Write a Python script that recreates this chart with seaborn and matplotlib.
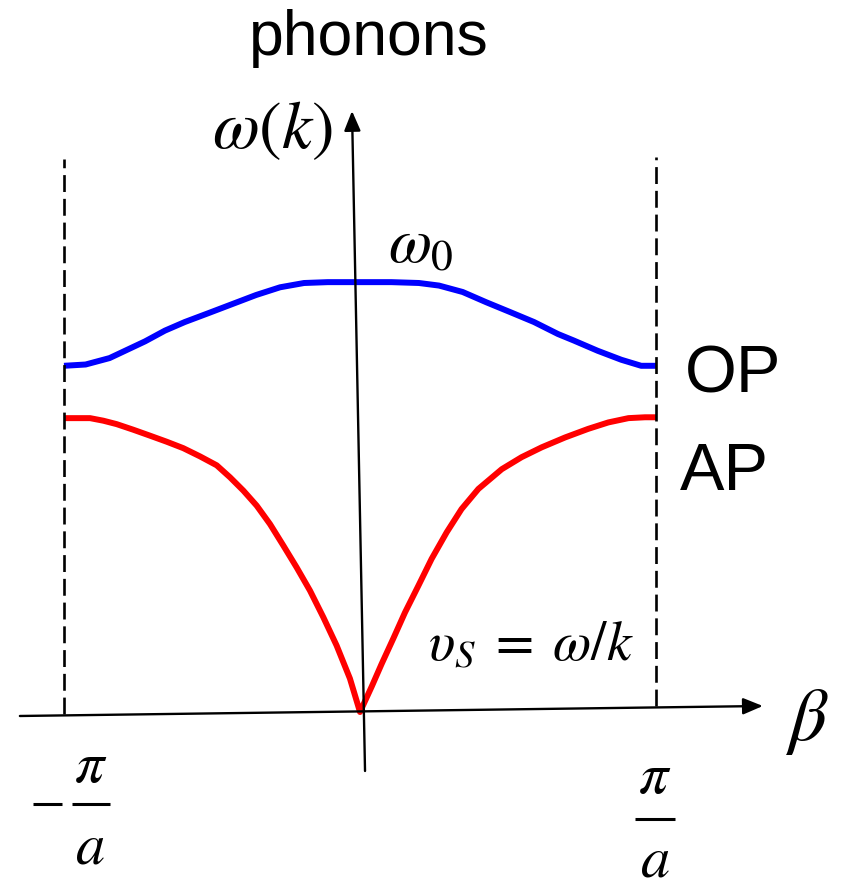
import matplotlib
matplotlib.use("Agg")
import matplotlib.pyplot as plt
import seaborn as sns
import pandas as pd

# Wave number in units of pi/a, frequency in units of omega_0
beta_ap = [-1.00, -0.957, -0.912, -0.867, -0.822, -0.766, -0.709, -0.653, -0.597, -0.541,
           -0.484, -0.439, -0.394, -0.349, -0.304, -0.259, -0.214, -0.169, -0.124, -0.079,
           -0.034, 0.00,
           0.040, 0.073, 0.113, 0.152, 0.197, 0.242, 0.293, 0.343, 0.400, 0.479, 0.546,
           0.614, 0.693, 0.771, 0.839, 0.907, 0.963, 1.00]
omega_ap = [0.685, 0.685, 0.685, 0.679, 0.671, 0.658, 0.644, 0.630, 0.615, 0.596,
            0.575, 0.547, 0.516, 0.481, 0.438, 0.388, 0.337, 0.283, 0.221, 0.155,
            0.078, 0.0,
            0.060, 0.112, 0.172, 0.232, 0.294, 0.357, 0.419, 0.473, 0.520, 0.566, 0.594,
            0.617, 0.640, 0.660, 0.675, 0.685, 0.687, 0.687]

beta_op = [-1.00, -0.927, -0.846, -0.726, -0.659, -0.592, -0.511, -0.431, -0.351, -0.270,
           -0.189, -0.109, 0.00, 0.106, 0.199, 0.267, 0.347, 0.427, 0.508, 0.588, 0.669,
           0.722, 0.803, 0.883, 0.950, 1.00]
omega_op = [0.807, 0.810, 0.825, 0.864, 0.889, 0.909, 0.930, 0.951, 0.972, 0.990,
            1.000, 1.002, 1.002, 1.002, 1.000, 0.994, 0.979, 0.955, 0.932, 0.909, 0.881,
            0.866, 0.842, 0.821, 0.807, 0.807]

zone_edges = [-1.0, 1.0]
branch_labels = ["OP", "AP"]

sns.set_theme(style="white")
plt.rcParams["mathtext.fontset"] = "stix"
plt.rcParams["font.family"] = ["Liberation Sans", "DejaVu Sans"]
plt.rcParams["text.color"] = "black"

fig = plt.figure(figsize=(8.42, 8.79), dpi=100)
ax = fig.add_axes([0, 0, 1, 1])
ax.set_xlim(-1.2162, 1.6284)
ax.set_ylim(-0.38695, 1.662)
ax.axis("off")

ap = pd.DataFrame({"beta": beta_ap, "omega": omega_ap})
op = pd.DataFrame({"beta": beta_op, "omega": omega_op})

sns.lineplot(data=op, x="beta", y="omega", ax=ax, color="#0000ff", lw=4.3,
             solid_capstyle="butt", solid_joinstyle="round", estimator=None)
sns.lineplot(data=ap, x="beta", y="omega", ax=ax, color="#ff0000", lw=4.3,
             solid_capstyle="butt", solid_joinstyle="round", estimator=None)

# Brillouin zone boundaries
ax.plot([zone_edges[0]] * 2, [-0.005, 1.289], color="black", lw=1.9, dashes=(6.4, 2.6))
ax.plot([zone_edges[1]] * 2, [0.013, 1.294], color="black", lw=1.9, dashes=(6.4, 2.6))

# Axes arrows
arrow = dict(arrowstyle="-|>,head_length=0.6,head_width=0.25", lw=1.7, color="black",
             mutation_scale=20, shrinkA=0, shrinkB=0)
ax.annotate("", xy=(1.361, 0.014), xytext=(-1.149, -0.0093), arrowprops=arrow)
ax.annotate("", xy=(-0.027, 1.401), xytext=(0.017, -0.1375), arrowprops=arrow)

# Labels
ax.text(0.030, 1.534, "phonons", fontsize=45, ha="center", va="baseline")
ax.text(-0.297, 1.317, r"$\omega(k)$", fontsize=49, ha="center", va="baseline")
ax.text(0.095, 1.051, r"$\omega_0$", fontsize=45, ha="left", va="baseline")
ax.text(1.098, 0.748, branch_labels[0], fontsize=48, ha="left", va="baseline")
ax.text(1.081, 0.520, branch_labels[1], fontsize=48, ha="left", va="baseline")
ax.text(0.230, 0.124, r"$\upsilon_S\;=\;\omega/k$", fontsize=40, ha="left", va="baseline")
ax.text(1.436, -0.063, r"$\beta$", fontsize=54, ha="left", va="baseline")

# Zone-edge fractions -pi/a and pi/a
ax.plot([-1.105, -1.007], [-0.2145, -0.2145], color="black", lw=2.2, solid_capstyle="butt")
ax.plot([-0.973, -0.845], [-0.2145, -0.2145], color="black", lw=2.2, solid_capstyle="butt")
ax.text(-0.909, -0.161, r"$\pi$", fontsize=42, ha="center", va="baseline")
ax.text(-0.912, -0.350, r"$a$", fontsize=42, ha="center", va="baseline")
ax.plot([0.929, 1.064], [-0.249, -0.249], color="black", lw=2.2, solid_capstyle="butt")
ax.text(0.997, -0.186, r"$\pi$", fontsize=42, ha="center", va="baseline")
ax.text(0.997, -0.382, r"$a$", fontsize=42, ha="center", va="baseline")

fig.savefig("out.png", dpi=100)
